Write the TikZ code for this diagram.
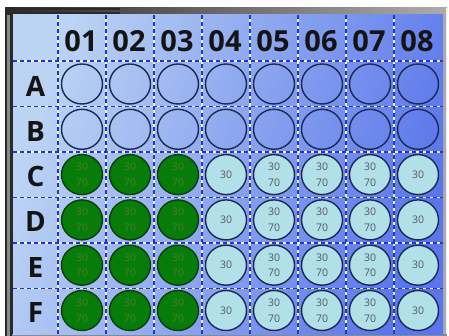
\documentclass[tikz,border=0pt]{standalone}
\usepackage{fontspec}
\setmainfont{Open Sans}
\usetikzlibrary{shapes.geometric}
\definecolor{bgA}{HTML}{BCD4F4}
\definecolor{bgB}{HTML}{5A76EA}
\definecolor{gridblue}{HTML}{2434D4}
\definecolor{gridyellow}{HTML}{EEF2B8}
\definecolor{wellnavy}{HTML}{1C2A52}
\definecolor{wellcyan}{HTML}{B2E0E8}
\definecolor{wellgreen}{HTML}{087C08}
\definecolor{greenedge}{HTML}{0A3E0A}
\definecolor{greentext}{HTML}{4C7E2A}
\definecolor{celltext}{HTML}{4E5860}
\definecolor{framedark}{HTML}{2A2A2A}
\definecolor{framemid}{HTML}{8A8A8A}
\definecolor{framelight}{HTML}{ACACAC}
\begin{document}
\begin{tikzpicture}[x=1pt,y=-1pt,
  gridbase/.style={gridyellow, line width=1.3pt},
  griddash/.style={gridblue, line width=1.3pt, dash pattern=on 4pt off 3pt},
  well/.style={ellipse, minimum width=41pt, minimum height=40pt, inner sep=0pt,
    line width=1.4pt, align=center, font=\fontsize{10.5}{15.5}\selectfont},
  emptywell/.style={well, draw=wellnavy},
  greenwell/.style={well, draw=greenedge, fill=wellgreen, text=greentext},
  bluewell/.style={well, draw=wellnavy, fill=wellcyan, text=celltext},
  collabel/.style={font=\fontsize{29}{29}\bfseries\selectfont, text=black!92, inner sep=0pt},
  rowlabel/.style={font=\fontsize{28}{28}\bfseries\selectfont, text=black!92, inner sep=0pt}]
\useasboundingbox (0,0) rectangle (449,336);
\fill[white] (0,0) rectangle (449,336);
% frame
\fill[framemid] (5,8) rectangle (447,338);
\shade[left color=framedark, right color=framelight] (5,8) rectangle (447,15);
\fill[framelight] (443,8) rectangle (447,338);
\draw[white!85!gray, line width=0.8pt] (446.3,8.5) -- (446.3,338);
\draw[framedark, line width=2pt] (6,338) -- (6,9) -- (120,9);
\draw[framedark, line width=2.6pt] (11.7,336) -- (11.7,13.7) -- (120,13.7);
\fill[framemid] (12,333.5) rectangle (447,338);
% background
\shade[top color=bgA, bottom color=bgB, shading angle=72] (13,15) rectangle (443,334);
% grid
\foreach \k in {0,...,7} {
  \draw[gridbase] (58+48*\k,15) -- (58+48*\k,334);
  \draw[griddash] (58+48*\k,15) -- (58+48*\k,334);
}
\foreach \k in {0,...,5} {
  \draw[gridbase] (13,61+45.5*\k) -- (443,61+45.5*\k);
  \draw[griddash] (13,61+45.5*\k) -- (443,61+45.5*\k);
}
% column labels
\foreach \c [count=\j from 0] in {01,02,03,04,05,06,07,08}
  \node[collabel] (col\c) at (81+48*\j,41.5) {\c};
% row labels
\foreach \r [count=\i from 0] in {A,B,C,D,E,F}
  \node[rowlabel] (row\r) at (35.5,86+45.3*\i) {\r};
% wells
\foreach \r [count=\i from 0] in {A,B}
  \foreach \j in {1,...,8}
    \node[emptywell] (w\r\j) at (82+48*\j-48,84+45.3*\i) {};
\foreach \r [count=\i from 2] in {C,D,E,F} {
  \foreach \j in {1,2,3}
    \node[greenwell] (w\r\j) at (82+48*\j-48,84+45.3*\i) {30\\70};
  \node[bluewell] (w\r4) at (226,84+45.3*\i) {30};
  \foreach \j in {5,6,7}
    \node[bluewell] (w\r\j) at (82+48*\j-48,84+45.3*\i) {30\\70};
  \node[bluewell] (w\r8) at (418,84+45.3*\i) {30};
}
\end{tikzpicture}
\end{document}
